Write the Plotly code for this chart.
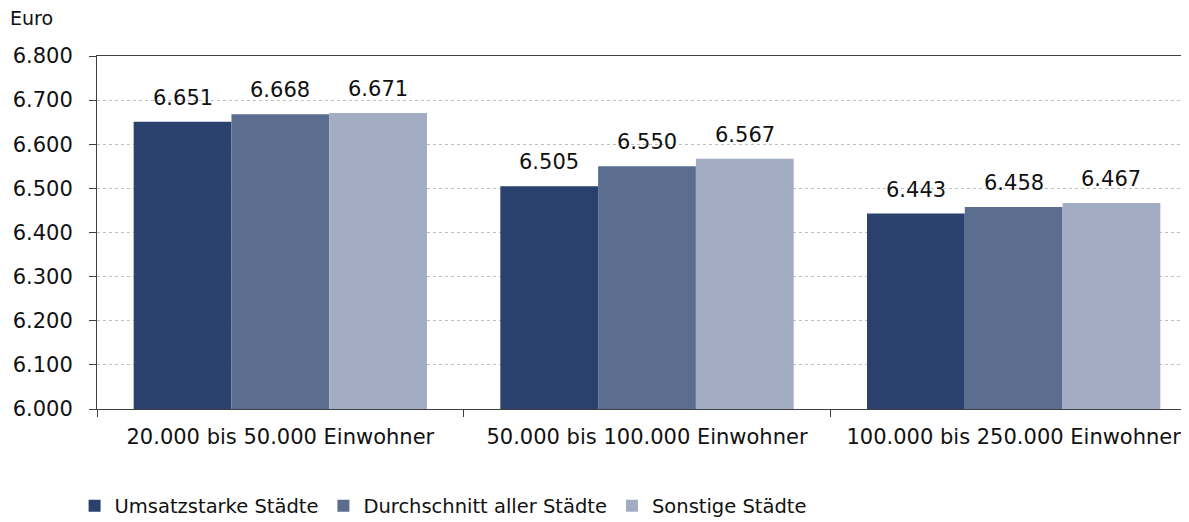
import plotly.graph_objects as go

categories = ["20.000 bis 50.000 Einwohner", "50.000 bis 100.000 Einwohner", "100.000 bis 250.000 Einwohner"]
series_names = ["Umsatzstarke Städte", "Durchschnitt aller Städte", "Sonstige Städte"]
umsatzstarke = [6651, 6505, 6443]
durchschnitt = [6668, 6550, 6458]
sonstige = [6671, 6567, 6467]
colors = ["#2A416E", "#5B6E8F", "#A2ADC4"]

FONT = "DejaVu Sans"
BARGAP = 0.2
series = [umsatzstarke, durchschnitt, sonstige]

fig = go.Figure()
for name, vals, c in zip(series_names, series, colors):
    fig.add_trace(go.Bar(
        x=categories, y=vals, name=name, marker=dict(color=c, line=dict(width=0)),
    ))

annotations = []
n = len(series)
w = (1 - BARGAP) / n
for j, vals in enumerate(series):
    for i, v in enumerate(vals):
        annotations.append(dict(
            x=i + (j - (n - 1) / 2) * w, y=v, xref="x", yref="y",
            text=f"{v:,d}".replace(",", "."), showarrow=False,
            xanchor="center", yanchor="bottom", yshift=10,
            font=dict(size=21, color="#111111", family=FONT)))

annotations.append(dict(text="Euro", xref="paper", yref="paper", x=-0.081, y=1.108,
                        xanchor="left", yanchor="middle", showarrow=False,
                        font=dict(size=19, color="#111111", family=FONT)))

fig.update_layout(
    width=1189, height=522,
    margin=dict(l=89, r=0, t=48, b=121),
    paper_bgcolor="white", plot_bgcolor="white",
    separators=",.",
    barmode="group", bargap=BARGAP, bargroupgap=0,
    font=dict(family=FONT, size=21, color="#111111"),
    showlegend=True,
    legend=dict(orientation="h", xref="container", x=0.056, xanchor="left",
                yref="container", y=0.046, yanchor="middle",
                font=dict(size=19.5, family=FONT), traceorder="normal"),
    annotations=annotations,
)
fig.update_yaxes(range=[6000, 6800], dtick=100, tickformat=",d", showgrid=True,
                 gridcolor="#C0C0C0", griddash="dot", gridwidth=1,
                 showline=True, linecolor="#404040", linewidth=1,
                 ticks="outside", ticklen=7, tickcolor="#404040", zeroline=False,
                 tickfont=dict(size=21), ticklabelstandoff=12)
fig.update_xaxes(showline=True, linecolor="#404040", linewidth=1, mirror=True,
                 ticks="outside", ticklen=7, tickcolor="#404040", tickson="boundaries",
                 tickfont=dict(size=21), ticklabelstandoff=9)
fig.write_html("out.html")
